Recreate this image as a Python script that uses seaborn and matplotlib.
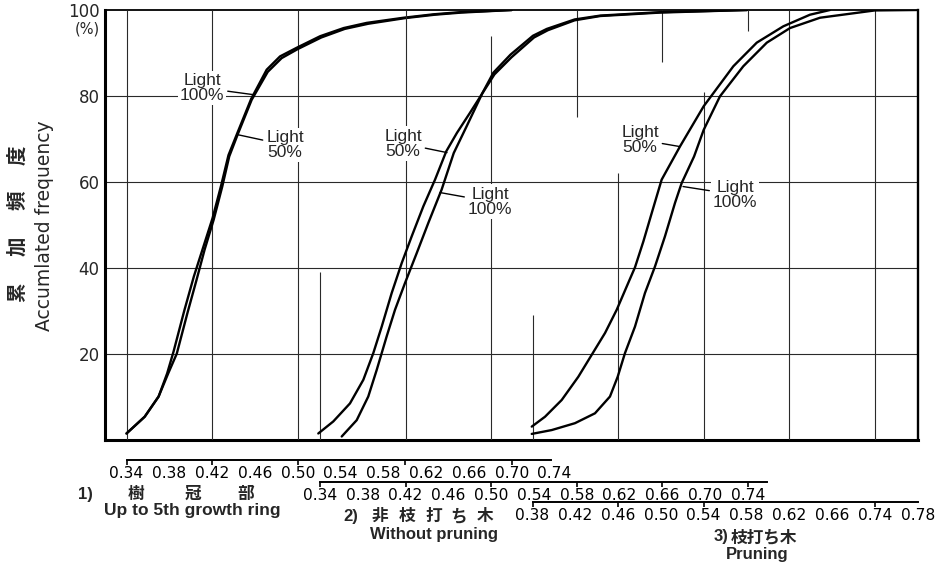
import matplotlib
matplotlib.use("Agg")
import matplotlib.pyplot as plt
import numpy as np
import pandas as pd
import seaborn as sns
from matplotlib.ticker import FixedLocator, FixedFormatter, NullFormatter

# ---------------- data ----------------
# 1) crown part (up to 5th growth ring) -- bottom scale row 1
G1_L50_X = [0.340, 0.357, 0.370, 0.378, 0.384, 0.394, 0.403, 0.4115, 0.4205, 0.4285, 0.4353,
            0.444, 0.4565, 0.471, 0.4835, 0.499, 0.521, 0.543, 0.5645, 0.599, 0.627, 0.652, 0.700]
G1_L50_Y = [1.4, 5.3, 10.0, 15.4, 20.5, 30.0, 38.0, 44.6, 51.6, 59.2, 66.2,
            71.6, 79.3, 86.1, 89.2, 91.2, 93.9, 95.8, 97.0, 98.2, 99.0, 99.5, 100.0]
G1_L100_X = [0.340, 0.357, 0.370, 0.379, 0.387, 0.397, 0.4055, 0.413, 0.4215, 0.4295, 0.436,
             0.4445, 0.457, 0.472, 0.485, 0.500, 0.522, 0.544, 0.566, 0.600, 0.628, 0.653, 0.700]
G1_L100_Y = [1.4, 5.3, 10.0, 15.4, 20.0, 29.5, 37.2, 44.2, 51.2, 58.9, 65.9,
             71.4, 79.1, 85.6, 88.8, 90.9, 93.6, 95.6, 96.8, 98.1, 98.9, 99.4, 100.0]

# 2) without pruning -- bottom scale row 2
G2_L50_X = [0.3384, 0.3524, 0.368, 0.3805, 0.3898, 0.3977, 0.407, 0.4164, 0.4257, 0.4366,
            0.4475, 0.458, 0.468, 0.480, 0.491, 0.502, 0.518, 0.539, 0.552, 0.578, 0.602,
            0.658, 0.739]
G2_L50_Y = [1.4, 4.2, 8.4, 13.9, 20.1, 26.3, 34.1, 41.1, 47.3, 54.3,
            60.5, 67.1, 71.4, 76.0, 80.3, 85.4, 89.6, 94.0, 95.6, 97.8, 98.7,
            99.5, 100.0]
G2_L100_X = [0.3603, 0.3743, 0.3851, 0.393, 0.4023, 0.4101, 0.4194, 0.4304, 0.4412, 0.4537,
             0.465, 0.477, 0.4915, 0.503, 0.519, 0.540, 0.553, 0.578, 0.602, 0.658, 0.739]
G2_L100_Y = [0.7, 4.5, 10.0, 16.2, 24.0, 30.2, 36.4, 43.4, 50.4, 58.2,
             66.7, 72.9, 80.5, 85.0, 89.0, 93.6, 95.3, 97.6, 98.6, 99.4, 100.0]

# 3) pruning -- bottom scale row 3
G3_L50_X = [0.3793, 0.3917, 0.4073, 0.4228, 0.4353, 0.4478, 0.4587, 0.468, 0.4758, 0.4836,
            0.4914, 0.5007, 0.518, 0.540, 0.5677, 0.5896, 0.6144, 0.6393, 0.658]
G3_L50_Y = [3.0, 5.3, 9.2, 14.6, 19.7, 24.8, 30.2, 35.6, 40.1, 46.1,
            52.7, 60.5, 68.3, 77.6, 86.9, 92.4, 96.2, 98.9, 100.0]
G3_L100_X = [0.3793, 0.398, 0.4197, 0.4384, 0.4524, 0.4596, 0.4664, 0.4758, 0.4851, 0.4945,
             0.5038, 0.5132, 0.5194, 0.531, 0.540, 0.5552, 0.577, 0.599, 0.6207, 0.6487,
             0.700, 0.739]
G3_L100_Y = [1.3, 2.2, 3.8, 6.1, 10.0, 14.6, 20.1, 26.3, 34.1, 40.3,
             47.3, 55.1, 59.7, 65.9, 72.1, 79.9, 86.9, 92.4, 95.8, 98.2,
             99.9, 100.0]

# bottom scales
ROW1_TICKS = [0.34, 0.38, 0.42, 0.46, 0.50, 0.54, 0.58, 0.62, 0.66, 0.70, 0.74]
ROW1_LABELS = ["0.34", "0.38", "0.42", "0.46", "0.50", "0.54", "0.58", "0.62", "0.66", "0.70", "0.74"]
ROW2_TICKS = [0.34, 0.38, 0.42, 0.46, 0.50, 0.54, 0.58, 0.62, 0.66, 0.70, 0.74]
ROW2_LABELS = ["0.34", "0.38", "0.42", "0.46", "0.50", "0.54", "0.58", "0.62", "0.66", "0.70", "0.74"]
ROW3_TICKS = [0.38, 0.42, 0.46, 0.50, 0.54, 0.58, 0.62, 0.66, 0.70, 0.74]
ROW3_LABELS = ["0.38", "0.42", "0.46", "0.50", "0.54", "0.58", "0.62", "0.66", "0.74", "0.78"]
ROW1_MARKS = [0.34, 0.42, 0.50, 0.60, 0.70]
ROW2_MARKS = [0.34, 0.42, 0.50, 0.58, 0.66, 0.74]
ROW3_MARKS = [0.38, 0.46, 0.54, 0.70]

Y_TICKS = [20, 40, 60, 80, 100]
Y_LABELS = ["20", "40", "60", "80", "100"]

SERIES_NAMES = ["Light\n100%", "Light\n50%"]
Y_TITLE_JA = ["累", "加", "頻", "度"]
Y_TITLE_EN = "Accumlated frequency"
CAP1_NUM, CAP1_JA, CAP1_EN = "1)", ["樹", "冠", "部"], "Up to 5th growth ring"
CAP2_NUM, CAP2_JA, CAP2_EN = "2)", ["非", "枝", "打", "ち", "木"], "Without pruning"
CAP3_NUM, CAP3_JA, CAP3_EN = "3)", "枝打ち木", "Pruning"

# ---------------- style / layout ----------------
sns.set_style("white")
plt.rcParams["font.family"] = ["DejaVu Sans", "Noto Sans CJK JP"]
CJK = ["Noto Sans CJK JP", "DejaVu Sans"]
LAT = ["Liberation Sans", "DejaVu Sans"]

W, H = 947, 567
AX_L, AX_R, AX_T, AX_B = 105, 918, 10, 439.5
PX_PER_UNIT = 1070.0
RECT = [AX_L / W, 1 - AX_B / H, (AX_R - AX_L) / W, (AX_B - AX_T) / H]
GRID_KW = dict(color="#2a2a2a", lw=0.8, zorder=1)
LINE_KW = dict(color="black", lw=1.7, zorder=3)
LABEL_KW = dict(fontsize=12.5, family=LAT, ha="center", va="center", linespacing=1.0,
                bbox=dict(boxstyle="square,pad=0.12", fc="white", ec="none"), zorder=4)
ARROW_KW = dict(arrowstyle="-", color="black", lw=1.0, shrinkA=1, shrinkB=0)

fig = plt.figure(figsize=(W / 100, H / 100), dpi=100)

# frame axes: y scale, horizontal grid, border
ax0 = fig.add_axes(RECT)
ax0.set_ylim(0, 100)
ax0.set_xlim(0, 1)
ax0.set_xticks([])
ax0.yaxis.set_major_locator(FixedLocator(Y_TICKS))
ax0.yaxis.set_major_formatter(FixedFormatter(Y_LABELS))
ax0.tick_params(axis="y", length=0, pad=4, labelsize=12)
for yv in Y_TICKS[:-1]:
    ax0.axhline(yv, **GRID_KW)
for side, lw in (("left", 2.2), ("bottom", 2.2), ("top", 1.3), ("right", 1.7)):
    ax0.spines[side].set_visible(True)
    ax0.spines[side].set_linewidth(lw)
    ax0.spines[side].set_color("black")
ax0.text(-0.006, 95.5, "(%)", transform=ax0.get_yaxis_transform(), ha="right", va="center",
         fontsize=10.5)


def group_axes(anchor_val, anchor_px, outward_pt, bounds, ticks, labels, marks):
    ax = fig.add_axes(RECT, sharey=ax0)
    lo = anchor_val - (anchor_px - AX_L) / PX_PER_UNIT
    hi = anchor_val + (AX_R - anchor_px) / PX_PER_UNIT
    ax.set_xlim(lo, hi)
    ax.patch.set_alpha(0)
    for s in ("left", "right", "top"):
        ax.spines[s].set_visible(False)
    sp = ax.spines["bottom"]
    sp.set_visible(True)
    sp.set_position(("outward", outward_pt))
    sp.set_bounds(*bounds)
    sp.set_linewidth(1.4)
    sp.set_color("black")
    ax.xaxis.remove_overlapping_locs = False
    ax.xaxis.set_major_locator(FixedLocator(ticks))
    ax.xaxis.set_major_formatter(FixedFormatter(labels))
    ax.xaxis.set_minor_locator(FixedLocator(marks))
    ax.xaxis.set_minor_formatter(NullFormatter())
    ax.tick_params(axis="x", which="major", bottom=True, top=False, length=0, pad=4.2,
                   labelsize=11.2, colors="black")
    ax.tick_params(axis="x", which="minor", bottom=True, top=False, length=3.6, width=1.2,
                   direction="out", colors="black")
    ax.tick_params(axis="y", which="both", left=False, labelleft=False)
    return ax


ax1 = group_axes(0.34, 126.5, 14.8, (0.34, 0.737), ROW1_TICKS, ROW1_LABELS, ROW1_MARKS)
ax2 = group_axes(0.34, 320.0, 30.6, (0.34, 0.758), ROW2_TICKS, ROW2_LABELS, ROW2_MARKS)
ax3 = group_axes(0.38, 532.5, 45.0, (0.38, 0.740), ROW3_TICKS, ROW3_LABELS, ROW3_MARKS)

# vertical grid segments (value, ymin, ymax) in each group's own scale
VGRID = {
    ax1: [(0.34, 0, 100), (0.42, 0, 100), (0.50, 0, 100)],
    ax2: [(0.34, 0, 39), (0.42, 0, 100), (0.50, 0, 94), (0.58, 75, 100), (0.66, 88, 100), (0.74, 95, 100)],
    ax3: [(0.38, 0, 29), (0.46, 0, 62), (0.54, 0, 81), (0.62, 0, 100), (0.70, 0, 100)],
}
for ax, segs in VGRID.items():
    for xv, y0, y1 in segs:
        ax.vlines(xv, y0, y1, **GRID_KW)

# curves
groups = [
    (ax1, (G1_L100_X, G1_L100_Y), (G1_L50_X, G1_L50_Y)),
    (ax2, (G2_L100_X, G2_L100_Y), (G2_L50_X, G2_L50_Y)),
    (ax3, (G3_L100_X, G3_L100_Y), (G3_L50_X, G3_L50_Y)),
]
for ax, s100, s50 in groups:
    for name, (xs, ys) in zip(SERIES_NAMES, (s100, s50)):
        df = pd.DataFrame({"density": xs, "freq": ys})
        sns.lineplot(data=df, x="density", y="freq", ax=ax, estimator=None, sort=False, **LINE_KW)
    ax.set_xlabel("")
    ax.set_ylabel("")
    ax.set_ylim(0, 100)

# series labels with leader lines
ax1.annotate(SERIES_NAMES[0], xy=(0.4582, 80.3), xytext=(0.4106, 81.9), arrowprops=ARROW_KW, **LABEL_KW)
ax1.annotate(SERIES_NAMES[1], xy=(0.4433, 71.0), xytext=(0.4881, 68.6), arrowprops=ARROW_KW, **LABEL_KW)
ax2.annotate(SERIES_NAMES[1], xy=(0.4587, 66.8), xytext=(0.4176, 68.9), arrowprops=ARROW_KW, **LABEL_KW)
ax2.annotate(SERIES_NAMES[0], xy=(0.4521, 57.5), xytext=(0.4989, 55.4), arrowprops=ARROW_KW, **LABEL_KW)
ax3.annotate(SERIES_NAMES[1], xy=(0.5178, 68.2), xytext=(0.4805, 69.8), arrowprops=ARROW_KW, **LABEL_KW)
ax3.annotate(SERIES_NAMES[0], xy=(0.5207, 58.9), xytext=(0.5693, 57.0), arrowprops=ARROW_KW, **LABEL_KW)


def ftxt(x, y, s, **kw):
    fig.text(x / W, 1 - y / H, s, **kw)


# axis titles
for ch, yy in zip(Y_TITLE_JA, (292, 246, 200, 155)):
    ftxt(17.5, yy, ch, rotation=90, ha="center", va="center", fontsize=14,
         fontweight="bold", family=CJK)
ftxt(45, 226, Y_TITLE_EN, rotation=90, ha="center", va="center",
     fontsize=13.5, family=["DejaVu Sans"])

# group captions
CAP_KW = dict(ha="center", va="center", fontweight="bold")
ftxt(85, 494, CAP1_NUM, fontsize=12, family=LAT, **CAP_KW)
for ch, xx in zip(CAP1_JA, (136, 193, 246)):
    ftxt(xx, 494, ch, fontsize=12, family=CJK, **CAP_KW)
ftxt(192, 511, CAP1_EN, fontsize=12.5, family=LAT, **CAP_KW)

ftxt(351, 516, CAP2_NUM, fontsize=12, family=LAT, **CAP_KW)
for ch, xx in zip(CAP2_JA, (380, 407, 434, 459, 485)):
    ftxt(xx, 516, ch, fontsize=12, family=CJK, **CAP_KW)
ftxt(434, 534, CAP2_EN, fontsize=12, family=LAT, **CAP_KW)

ftxt(721, 537, CAP3_NUM, fontsize=12, family=LAT, **CAP_KW)
ftxt(764, 537, CAP3_JA, fontsize=12, family=CJK, **CAP_KW)
ftxt(757, 555, CAP3_EN, fontsize=12, family=LAT, **CAP_KW)

fig.savefig("out.png", dpi=100, facecolor="white")
